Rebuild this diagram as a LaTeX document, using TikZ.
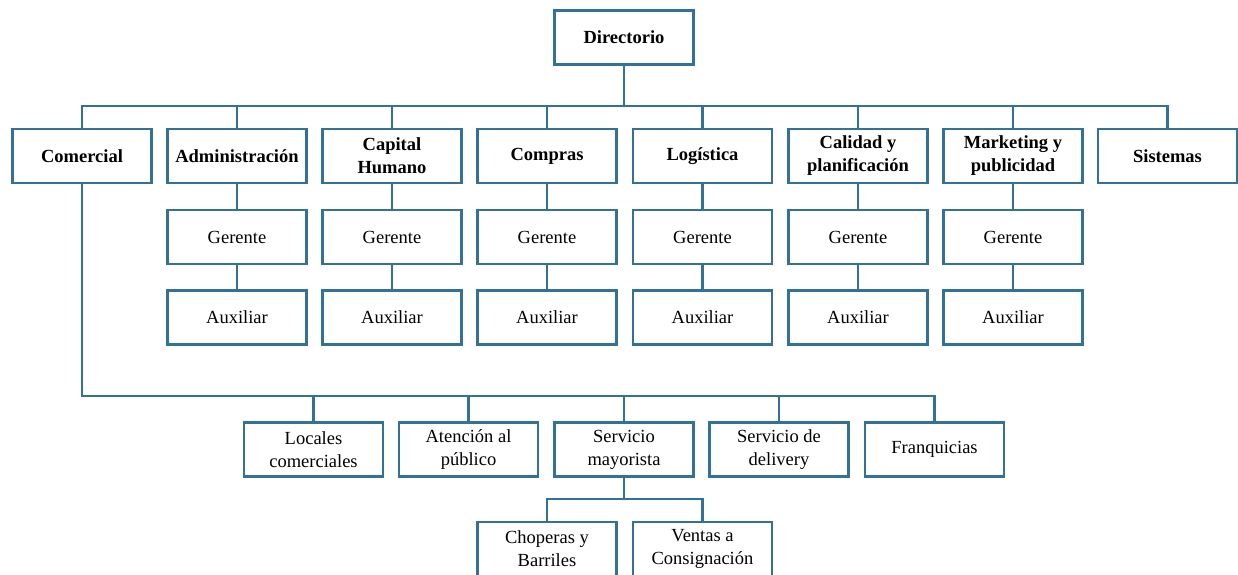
\documentclass[tikz,border=0pt]{standalone}
\usepackage{fontspec}
\setmainfont{Liberation Serif}
\definecolor{boxblue}{RGB}{49,114,155}
\begin{document}
\begin{tikzpicture}[x=1pt,y=-1pt,
  box/.style={draw=boxblue, line width=2.8pt, fill=white, minimum width=139pt, minimum height=54pt,
    inner sep=1pt, align=center, font=\fontsize{18.5}{23}\selectfont},
  bbox/.style={box, font=\fontsize{18.5}{23}\selectfont\bfseries},
  link/.style={draw=boxblue, line width=2.8pt}]
\useasboundingbox (0,0) rectangle (1238,574);
\clip (0,0) rectangle (1238,574);
% level 0
\node[bbox] (dir) at (624,37.5) {Directorio};
% level 1
\node[bbox] (com) at (82,156) {Comercial};
\node[bbox] (adm) at (237,156) {Administración};
\node[bbox] (cap) at (392,156) {Capital\\Humano};
\node[bbox] (cpr) at (547,156) {Compras};
\node[bbox] (log) at (702.5,156) {Logística};
\node[bbox] (cal) at (858,156) {Calidad y\\planificación};
\node[bbox] (mkt) at (1013,156) {Marketing y\\publicidad};
\node[bbox] (sis) at (1167.5,156) {Sistemas};
% gerente / auxiliar
\foreach \n/\x in {adm/237,cap/392,cpr/547,log/702.5,cal/858,mkt/1013}{
  \node[box] (g\n) at (\x,237) {Gerente};
  \node[box] (a\n) at (\x,317.5) {Auxiliar};
}
% level 3
\node[box] (loc) at (313.5,449.5) {Locales\\comerciales};
\node[box] (ate) at (468.5,449.5) {Atención al\\público};
\node[box] (may) at (624,449.5) {Servicio\\mayorista};
\node[box] (del) at (779,449.5) {Servicio de\\delivery};
\node[box] (fra) at (934.5,449.5) {Franquicias};
% level 4
\node[box] (cho) at (547,549) {Choperas y\\Barriles};
\node[box] (ven) at (702.5,549) {Ventas a\\Consignación};
% buses
\coordinate (bus1) at (624,106);
\coordinate (bus2) at (500,396);
\coordinate (bus3) at (624,499);
\draw[link] (dir.south) -- (bus1);
\draw[link, line cap=rect] (com.north |- bus1) -- (sis.north |- bus1);
\foreach \n in {com,adm,cap,cpr,log,cal,mkt,sis}{
  \draw[link] (\n.north) -- (\n.north |- bus1);
}
\foreach \n in {adm,cap,cpr,log,cal,mkt}{
  \draw[link] (\n.south) -- (g\n.north);
  \draw[link] (g\n.south) -- (a\n.north);
}
\draw[link, line join=miter] (com.south) |- (fra.north |- bus2) -- (fra.north);
\foreach \n in {loc,ate,may,del}{
  \draw[link] (\n.north) -- (\n.north |- bus2);
}
\draw[link] (may.south) -- (bus3);
\draw[link, line join=miter] (cho.north) |- (ven.north |- bus3) -- (ven.north);
\end{tikzpicture}
\end{document}
